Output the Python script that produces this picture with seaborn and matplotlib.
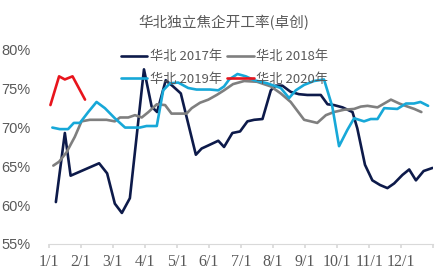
import matplotlib
matplotlib.use("Agg")
import matplotlib.pyplot as plt
import seaborn as sns
import pandas as pd

sns.set_theme(style="white")
plt.rcParams['font.family'] = ['Noto Sans CJK SC', 'DejaVu Sans']

title = "华北独立焦企开工率(卓创)"
month_labels = ["1/1", "2/1", "3/1", "4/1", "5/1", "6/1", "7/1", "8/1", "9/1", "10/1", "11/1", "12/1"]
y_ticks = [55, 60, 65, 70, 75, 80]

x_2017 = [0.22, 0.5, 0.68, 1.57, 1.82, 2.06, 2.28, 2.53, 2.97, 3.21, 3.38, 3.65, 3.88, 4.12,
          4.59, 4.77, 4.98, 5.29, 5.47, 5.73, 5.97, 6.2, 6.41, 6.67, 6.93, 7.08, 7.29, 7.55,
          7.81, 8.07, 8.28, 8.49, 8.7, 8.9, 9.17, 9.48, 9.63, 9.87, 10.1, 10.34, 10.57, 10.78,
          11.04, 11.25, 11.46, 11.7, 11.98]
v_2017 = [60.4, 69.3, 63.8, 65.4, 64.1, 60.2, 59.0, 60.9, 77.5, 72.7, 72.0, 76.1, 75.3, 74.4,
          66.5, 67.3, 67.7, 68.3, 67.5, 69.3, 69.5, 70.8, 71.0, 71.1, 74.8, 75.4, 75.4, 74.6,
          74.3, 74.2, 74.2, 74.2, 73.0, 72.9, 72.6, 72.0, 69.9, 65.2, 63.2, 62.6, 62.2, 62.8,
          63.9, 64.6, 63.2, 64.4, 64.8]

x_2018 = [0.14, 0.32, 0.55, 0.81, 1.02, 1.28, 1.8, 2.06, 2.22, 2.48, 2.69, 2.9, 3.11, 3.37,
          3.63, 3.83, 4.3, 4.46, 4.72, 4.98, 5.24, 5.47, 5.75, 6.1, 6.5, 6.93, 7.24, 7.55,
          7.97, 8.38, 8.65, 8.9, 9.22, 9.53, 9.74, 9.95, 10.26, 10.47, 10.68, 10.94, 11.2,
          11.41, 11.63]
v_2018 = [65.1, 65.6, 66.8, 68.8, 70.8, 71.0, 71.0, 70.8, 71.3, 71.3, 71.6, 71.3, 72.0, 73.0,
          72.9, 71.8, 71.8, 72.5, 73.2, 73.6, 74.2, 74.8, 75.6, 76.0, 75.9, 75.3, 74.4, 73.3,
          71.0, 70.6, 71.6, 72.0, 72.3, 72.4, 72.7, 72.8, 72.6, 73.1, 73.6, 73.1, 72.7,
          72.4, 72.0]

x_2019 = [0.11, 0.34, 0.6, 0.78, 0.97, 1.23, 1.49, 1.75, 2.06, 2.38, 2.84, 3.05, 3.37, 3.57,
          3.78, 4.04, 4.35, 4.61, 5.03, 5.29, 5.47, 5.63, 5.89, 6.15, 6.41, 6.82, 7.24, 7.5,
          7.71, 7.97, 8.28, 8.59, 8.85, 9.06, 9.32, 9.53, 9.84, 10.05, 10.26, 10.47, 10.88,
          11.15, 11.4, 11.6, 11.84]
v_2019 = [70.0, 69.8, 69.8, 70.6, 70.6, 72.0, 73.3, 72.5, 71.2, 70.0, 70.0, 70.2, 70.2, 74.8,
          75.7, 75.8, 75.1, 74.9, 74.9, 74.8, 75.3, 76.2, 76.9, 76.6, 76.1, 75.7, 75.1, 73.8,
          74.8, 75.5, 76.0, 76.2, 72.7, 67.6, 69.7, 71.2, 70.8, 71.1, 71.1, 72.5, 72.4,
          73.1, 73.1, 73.3, 72.8]

x_2020 = [0.05, 0.32, 0.5, 0.74, 1.13]
v_2020 = [72.9, 76.6, 76.2, 76.6, 73.6]

series = [("华北 2017年", x_2017, v_2017, "#0d1a4a"),
          ("华北 2018年", x_2018, v_2018, "#7f7f7f"),
          ("华北 2019年", x_2019, v_2019, "#17a8d8"),
          ("华北 2020年", x_2020, v_2020, "#e8141c")]

frames = []
for name, xs, vs, _ in series:
    frames.append(pd.DataFrame({"x": xs, "v": vs, "s": name}))
df = pd.concat(frames, ignore_index=True)
palette = {name: c for name, _, _, c in series}

fig = plt.figure(figsize=(4.48, 2.76), dpi=100)
ax = fig.add_axes([0.109, 0.116, 0.858, 0.703])
sns.lineplot(data=df, x="x", y="v", hue="s", palette=palette, sort=False,
             estimator=None, linewidth=1.9, ax=ax, legend=True)

ax.set_xlim(0, 12)
ax.set_ylim(55, 80)
ax.set_xticks(range(13))
ax.set_xticklabels(month_labels + [""])
ax.set_yticks(y_ticks)
ax.set_yticklabels([f"{t}%" for t in y_ticks])
ax.set_xlabel("")
ax.set_ylabel("")
for sp in ["top", "right", "left"]:
    ax.spines[sp].set_visible(False)
ax.spines["bottom"].set_color("#d9d9d9")
ax.spines["bottom"].set_linewidth(0.8)
ax.tick_params(axis="x", which="both", bottom=True, length=3, color="#d9d9d9",
               labelsize=11.5, labelcolor="#595959", pad=4)
ax.tick_params(axis="y", left=False, labelsize=10.5, labelcolor="#595959", pad=7)
for lab in ax.get_xticklabels():
    lab.set_family(["Liberation Serif", "DejaVu Serif"])
for lab in ax.get_yticklabels():
    lab.set_family(["Liberation Sans", "DejaVu Sans"])

fig.text(0.5, 0.92, title, ha="center", va="center", fontsize=10.5, color="#595959")

handles, labels = ax.get_legend_handles_labels()
order = [0, 2, 1, 3]
leg = ax.legend([handles[i] for i in order], [labels[i] for i in order],
                loc="upper left", bbox_to_anchor=(0.255, 0.842), bbox_transform=fig.transFigure,
                ncol=2, frameon=False, fontsize=9.5, handlelength=2.0, handletextpad=0.2,
                columnspacing=0.4, labelspacing=0.75, borderpad=0)
for t in leg.get_texts():
    t.set_color("#595959")
for h in leg.get_lines():
    h.set_linewidth(1.9)

fig.savefig("out.png", dpi=100)
